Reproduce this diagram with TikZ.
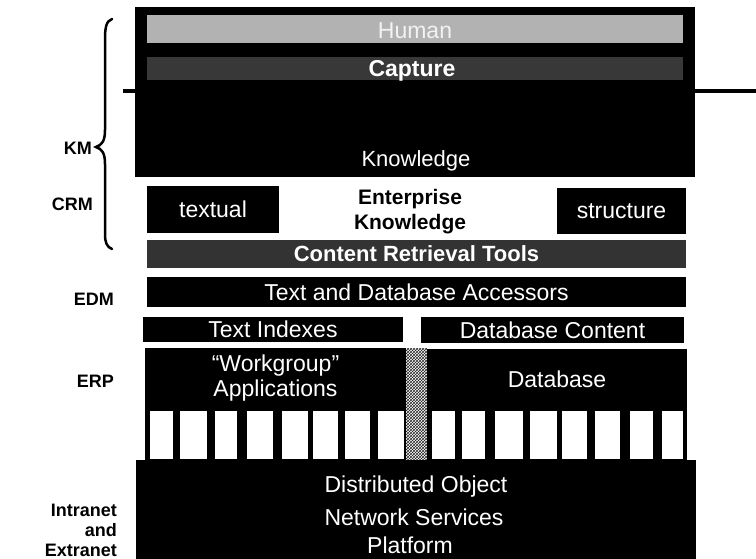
\documentclass[tikz,border=0pt]{standalone}
\usepackage{fontspec}
\setmainfont{Liberation Sans}
\usetikzlibrary{patterns}
\begin{document}
\begin{tikzpicture}[x=1pt,y=-1pt,
  wtxt/.style={text=white,font=\fontsize{23}{25}\selectfont,align=center,inner sep=0pt},
  box/.style={fill=black,text=white,font=\fontsize{23}{25}\selectfont,align=center,inner sep=0pt,draw=none},
  lbl/.style={font=\bfseries\fontsize{18}{20}\selectfont,anchor=east,align=right,inner sep=0pt}]
\useasboundingbox (0,0) rectangle (756,559);
% horizontal line behind top block
\coordinate (lineL) at (123,91);
\coordinate (lineR) at (756,91);
\draw[line width=4.5pt] (lineL) -- (lineR);
% top block
\fill (135,7) rectangle (695,177);
\fill[gray!60] (147,15) rectangle (683,43);
\fill[black!78] (147,57) rectangle (683,80);
\node[wtxt,text=white!90!gray] (human) at (415,31) {Human};
\node[wtxt,font=\bfseries\fontsize{23}{25}\selectfont] (capture) at (412,71) {Capture};
\node[wtxt,font=\fontsize{22}{25}\selectfont] (knowledge) at (416,161) {Knowledge};
% enterprise row
\node[box,minimum width=132pt,minimum height=47pt] (textual) at (213,209.5) {textual};
\node[box,minimum width=129pt,minimum height=46pt] (structure) at (621.5,211) {structure};
\node[font=\bfseries\fontsize{21}{25}\selectfont,align=center,inner sep=0pt] (ek) at (410,212) {Enterprise\\Knowledge};
% content retrieval and accessors
\node[box,fill=black!80,font=\bfseries\fontsize{22}{25}\selectfont,minimum width=539pt,minimum height=28pt] (crt) at (416.5,254) {Content Retrieval Tools};
\node[box,minimum width=539pt,minimum height=30pt] (tda) at (416.5,292) {Text and Database Accessors};
\node[box,minimum width=260pt,minimum height=25pt] (ti) at (273,329.5) {Text Indexes};
\node[box,minimum width=263pt,minimum height=26pt] (dc) at (552.5,330) {Database Content};
% ERP blocks
\node[box,minimum width=261pt,minimum height=61pt] (wg) at (275.5,378.5) {“Workgroup”\\Applications};
\node[box,minimum width=260pt,minimum height=60pt] (db) at (557,379) {Database};
\fill[white] (406,348) rectangle (427,460);
\fill[pattern=crosshatch,pattern color=black!85] (406,348) rectangle (427,460);
% bars
\fill (145,409) rectangle (406,460);
\fill (427,409) rectangle (687,460);
\foreach \a/\b in {150/173,180/207,215/237,247/273,282/308,313/338,345/370,378/404,
                   432/455,462/485,495/523,530/557,562/587,595/620,630/653,662/683}
  \fill[white] (\a,411) rectangle (\b,459);
\foreach \c in {177,240,276,311,341,374,459,491,526,592,626,659}
  \draw[line width=1.2pt] (\c,411) -- (\c,459);
% bottom block
\fill (136,460) rectangle (696,559);
\node[wtxt] (dist) at (416,487) {Distributed Object};
\node[wtxt] (net) at (414,517) {Network Services};
\node[wtxt] (plat) at (410,545) {Platform};
% left labels
\node[lbl] (km) at (92,148) {KM};
\node[lbl] (crm) at (93,204) {CRM};
\node[lbl] (edm) at (114,299) {EDM};
\node[lbl] (erp) at (114,381) {ERP};
\node[lbl] (net2) at (117,530) {Intranet\\and\\Extranet};
% brace
\draw[line width=2.5pt,line cap=round] (112,19) .. controls (106,21) and (105,28) .. (105,40) -- (105,130)
  .. controls (105,141) and (102,145) .. (96,147) .. controls (102,149) and (105,153) .. (105,164)
  -- (105,234) .. controls (105,243) and (107,247) .. (112,249);
\end{tikzpicture}
\end{document}
